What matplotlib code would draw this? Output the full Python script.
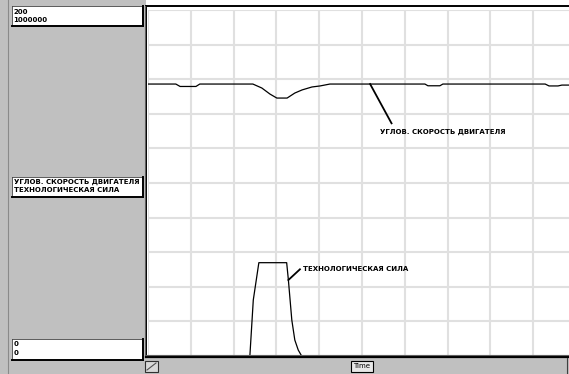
import numpy as np
import matplotlib.pyplot as plt
from matplotlib.patches import Rectangle
from matplotlib.lines import Line2D

# данные (время в условных делениях сетки)
speed_t = [0, 0.65, 0.75, 1.12, 1.21, 2.45, 2.66, 2.85, 3.01, 3.25, 3.43, 3.60,
           3.83, 4.02, 4.25, 6.47, 6.54, 6.82, 6.89, 9.28, 9.37, 9.58, 9.67, 9.85]
speed_v = [157.2, 157.2, 155.8, 155.8, 157.2, 157.2, 154.9, 151.4, 149.1, 149.1,
           152.0, 153.8, 155.5, 156.1, 157.2, 157.2, 156.2, 156.2, 157.2, 157.2,
           156.1, 156.1, 156.6, 156.6]

force_t = [0, 2.38, 2.46, 2.59, 3.24, 3.28, 3.36, 3.43, 3.51, 3.59, 10]
force_v = [0, 0, 161850, 269700, 269700, 219650, 104000, 46240, 17340, 0, 0]

speed_name = 'УГЛОВ. СКОРОСТЬ ДВИГАТЕЛЯ'
force_name = 'ТЕХНОЛОГИЧЕСКАЯ СИЛА'
top_vals = ['200', '1000000']
bottom_vals = ['0', '0']

W, H = 569, 374
GRAY = '#c0c0c0'

fig = plt.figure(figsize=(W / 100, H / 100), dpi=100, facecolor='white')


def px_rect(x0, y0, x1, y1, **kw):
    fig.patches.append(Rectangle((x0 / W, 1 - y1 / H), (x1 - x0) / W, (y1 - y0) / H,
                                 transform=fig.transFigure, **kw))


def px_line(xs, ys, **kw):
    fig.lines.append(Line2D([x / W for x in xs], [1 - y / H for y in ys],
                            transform=fig.transFigure, **kw))


def px_text(x, y, s, **kw):
    fig.text(x / W, 1 - y / H, s, **kw)


# область графика
ax = fig.add_axes([148 / W, 18 / H, 428 / W, 346 / H])
ax.set_facecolor('white')
ax.set_xlim(0, 10)
ax.set_ylim(0, 200)
ax.set_xticks(np.arange(0, 11, 1))
ax.set_yticks(np.arange(0, 201, 20))
ax.grid(True, color='#e0e0e0', lw=1.5)
ax.tick_params(length=0, labelbottom=False, labelleft=False)
for s in ax.spines.values():
    s.set_visible(False)

ax2 = ax.twinx()
ax2.set_ylim(0, 1000000)
ax2.set_yticks([])
for s in ax2.spines.values():
    s.set_visible(False)

ax.plot(speed_t, speed_v, color='black', lw=0.9)
ax2.plot(force_t, force_v, color='black', lw=0.9)

fnt = dict(family='DejaVu Sans', fontweight='bold', fontsize=5.0, color='black')

# подписи кривых
ax.plot([5.19, 5.69], [157.2, 134.5], color='black', lw=1.3)
ax.text(5.42, 129.7, speed_name, va='center', ha='left', **fnt)
ax2.plot([3.28, 3.55], [219650, 250600], color='black', lw=1.3)
ax2.text(3.63, 250600, force_name, va='center', ha='left', **fnt)

# левая панель
px_rect(0, 0, 146, 358, facecolor=GRAY, edgecolor='none')
px_line([8, 8], [0, 374], color='#8a8a8a', lw=0.8)
# нижняя полоса
px_rect(0, 357, W, H, facecolor=GRAY, edgecolor='none')

# рамка графика
px_line([146, W], [6, 6], color='black', lw=1.4)
px_line([146, 146], [6, 357], color='black', lw=1.4)
px_line([144.5, 144.5], [6, 357], color='#606060', lw=0.8)
px_line([146, W], [356.5, 356.5], color='black', lw=1.6)
px_line([146, W], [355, 355], color='#606060', lw=0.8)
px_line([567, 567], [358, H], color='#404040', lw=0.8)


def legend_box(y0, y1, lines, ys):
    px_rect(12, y0, 142, y1, facecolor='white', edgecolor='none')
    px_line([12, 142], [y0, y0], color='#404040', lw=0.6)
    px_line([12, 12], [y0, y1], color='#404040', lw=0.6)
    px_line([142.5, 142.5], [y0, y1], color='black', lw=1.4)
    px_line([12, 143], [y1, y1], color='black', lw=1.4)
    for s, y in zip(lines, ys):
        px_text(13.5, y, s, va='center', ha='left', **fnt)


legend_box(6, 26, top_vals, [12.5, 20])
legend_box(177, 197, [speed_name, force_name], [182, 190])
legend_box(339, 360, bottom_vals, [344.5, 353])

# значок и кнопка Time
px_rect(145, 361, 158, 372, facecolor='#d8d8d8', edgecolor='#303030', lw=0.8)
px_line([147, 156], [370, 363], color='#505050', lw=0.8)
px_rect(351, 361, 373, 372, facecolor='#e8e8e8', edgecolor='black', lw=0.8)
px_text(362, 366.5, 'Time', va='center', ha='center', family='DejaVu Sans',
        fontsize=5.0, color='black')

fig.savefig('out.png', dpi=100, facecolor='white')
